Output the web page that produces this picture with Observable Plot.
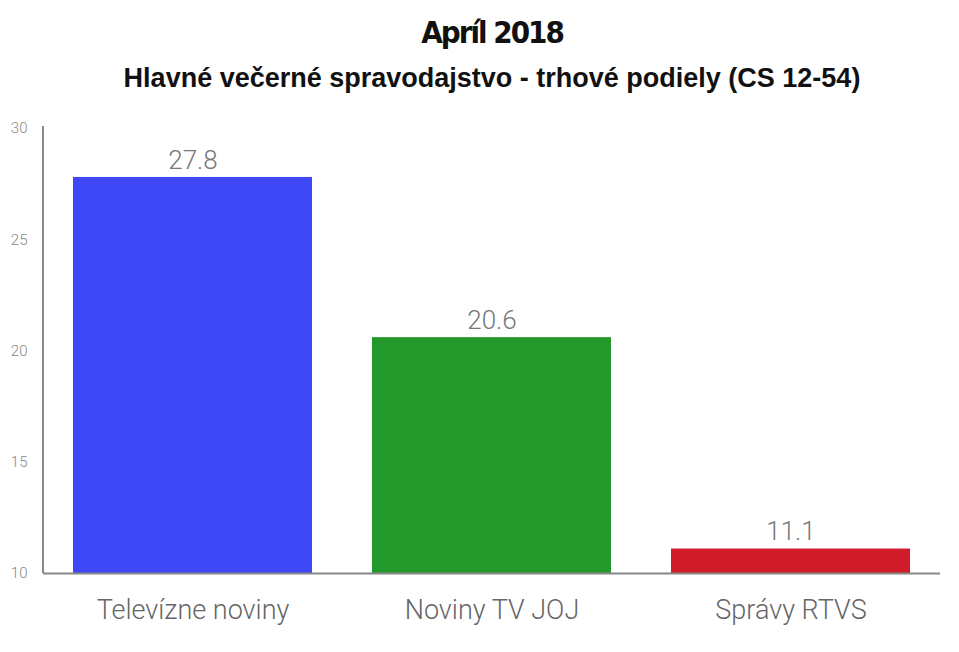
<!DOCTYPE html>
<html>
<head>
<meta charset="utf-8">
<script src="https://cdn.jsdelivr.net/npm/d3@7"></script>
<script src="https://cdn.jsdelivr.net/npm/@observablehq/plot@0.6"></script>
<style>
  body { margin: 0; background: #fff; width: 959px; overflow: hidden; }
  #title { position: absolute; left: 0; top: 14px; width: 984px; text-align: center;
    font-family: "DejaVu Sans Condensed", "Liberation Sans Narrow", "Liberation Sans", sans-serif;
    font-stretch: condensed; font-weight: bold; font-size: 31px; color: #111; letter-spacing: -2px; }
  #subtitle { position: absolute; left: 0; top: 63px; width: 984px; text-align: center;
    font-family: "Liberation Sans", Arial, sans-serif; font-weight: bold; font-size: 27px; color: #111; }
  #chart { position: absolute; left: 0; top: 100px; }
</style>
</head>
<body>
<div id="title">Apríl 2018</div>
<div id="subtitle">Hlavné večerné spravodajstvo - trhové podiely (CS 12-54)</div>
<div id="chart"></div>
<script>
const categories = ["Televízne noviny", "Noviny TV JOJ", "Správy RTVS"];
const values = [27.8, 20.6, 11.1];
const colors = ["#3f48f7", "#23982b", "#d21b2a"];
const yTicks = [10, 15, 20, 25, 30];

const data = categories.map((c, i) => ({category: c, value: values[i], color: colors[i]}));
const labelFont = "Roboto, 'DejaVu Sans Condensed', sans-serif";

const plot = Plot.plot({
  width: 959,
  height: 552,
  marginLeft: 43,
  marginRight: 19,
  marginTop: 28,
  marginBottom: 79,
  style: {background: "transparent", overflow: "visible"},
  x: {domain: categories, paddingInner: 0.2, paddingOuter: 0.1, label: null},
  y: {domain: [10, 30], label: null},
  marks: [
    Plot.barY(data, {x: "category", y1: 10, y2: "value", fill: "color"}),
    Plot.text(data, {x: "category", y: "value", text: d => d.value.toFixed(1), dy: -17,
      fontSize: 26, fill: "#777", fontFamily: labelFont, fontWeight: 300}),
    Plot.ruleY([10], {stroke: "#888", strokeWidth: 2}),
    Plot.axisY({ticks: yTicks, tickSize: 0, tickPadding: 16, fontSize: 15, fill: "#888",
      fontFamily: labelFont, fontWeight: 300, label: null}),
    Plot.axisX({tickSize: 0, tickPadding: 26, fontSize: 27, fill: "#666",
      fontFamily: labelFont, fontWeight: 300, label: null})
  ]
});

// left axis line drawn from the plot's own scales
const xs = plot.scale("x"), ys = plot.scale("y");
d3.select(plot).append("line")
  .attr("x1", xs.range[0]).attr("x2", xs.range[0])
  .attr("y1", ys.range[0]).attr("y2", ys.range[1] - 2)
  .attr("stroke", "#888").attr("stroke-width", 2);
document.getElementById("chart").appendChild(plot);
</script>
</body>
</html>
